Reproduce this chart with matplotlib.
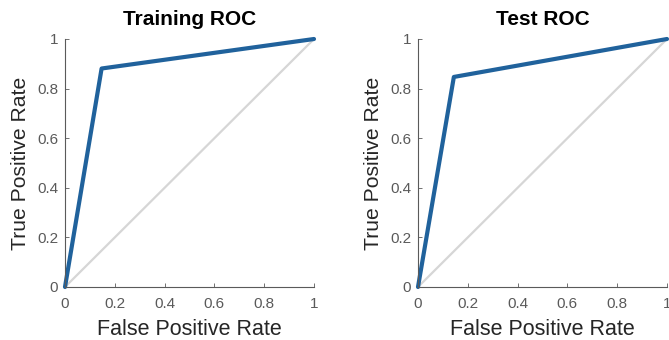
import matplotlib
matplotlib.use("Agg")
import matplotlib.pyplot as plt

train_fpr = [0.0, 0.147, 1.0]
train_tpr = [0.0, 0.881, 1.0]
test_fpr = [0.0, 0.144, 1.0]
test_tpr = [0.0, 0.847, 1.0]
titles = ["Training ROC", "Test ROC"]
ticks = [0, 0.2, 0.4, 0.6, 0.8, 1]
tick_labels = ["0", "0.2", "0.4", "0.6", "0.8", "1"]

plt.rcParams['font.family'] = ['Liberation Sans', 'DejaVu Sans']

W, H = 669, 340
fig = plt.figure(figsize=(W/100, H/100), dpi=100)

axes_px = [(65, 39, 249, 248), (418, 39, 249, 248)]
data = [(train_fpr, train_tpr), (test_fpr, test_tpr)]

for (x0, y0, w, h), (fpr, tpr), title in zip(axes_px, data, titles):
    ax = fig.add_axes([x0/W, 1-(y0+h)/H, w/W, h/H])
    ax.plot([0, 1], [0, 1], color='#d6d6d6', lw=1.6, zorder=1)
    ax.plot(fpr, tpr, color='#20629c', lw=3.0, zorder=2, solid_capstyle='round', clip_on=False)
    ax.set_xlim(0, 1)
    ax.set_ylim(0, 1)
    ax.set_xticks(ticks)
    ax.set_yticks(ticks)
    ax.set_xticklabels(tick_labels)
    ax.set_yticklabels(tick_labels)
    for s in ['top', 'right']:
        ax.spines[s].set_visible(False)
    for s in ['left', 'bottom']:
        ax.spines[s].set_color('#5a5a5a')
        ax.spines[s].set_linewidth(0.8)
    ax.tick_params(direction='in', length=3, width=0.6, colors='#5a5a5a', labelsize=11)
    ax.tick_params(axis='x', pad=7)
    ax.tick_params(axis='y', pad=5)
    ax.set_xlabel("False Positive Rate", fontsize=15.5, color='#262626', labelpad=6)
    ax.set_ylabel("True Positive Rate", fontsize=15.2, color='#262626', labelpad=5)
    ax.set_title(title, fontsize=15, fontweight='bold', color='black', pad=10)

fig.savefig("out.png", dpi=100)
